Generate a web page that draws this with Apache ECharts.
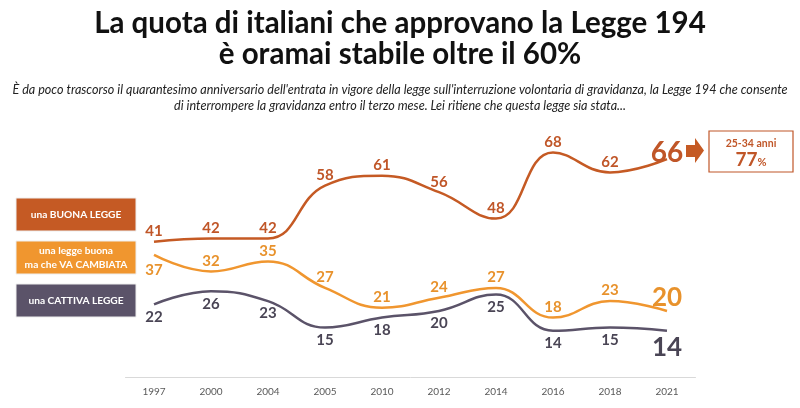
<!DOCTYPE html>
<html><head><meta charset="utf-8">
<script src="https://cdn.jsdelivr.net/npm/echarts@6/dist/echarts.min.js"></script>
<style>html,body{margin:0;padding:0;background:#fff}#c{width:800px;height:408px}</style>
</head><body><div id="c"></div>
<script>
const years = ['1997','2000','2004','2005','2010','2012','2014','2016','2018','2021'];
const buona = [41,42,42,58,61,56,48,68,62,66];
const cambiata = [37,32,35,27,21,24,27,18,23,20];
const cattiva = [22,26,23,15,18,20,25,14,15,14];
const legendNames = ['una BUONA LEGGE','una legge buona\nma che VA CAMBIATA','una CATTIVA LEGGE'];
const titleText = 'La quota di italiani che approvano la Legge 194\nè oramai stabile oltre il 60%';
const subText = "È da poco trascorso il quarantesimo anniversario dell'entrata in vigore della legge sull'interruzione volontaria di gravidanza, la Legge 194 che consente\ndi interrompere la gravidanza entro il terzo mese. Lei ritiene che questa legge sia stata...";
const boxTop = '25-34 anni';
const boxValue = '77';

const C1 = '#C55A24', C2 = '#F0962F', C3 = '#5B5369';
const L1 = '#C05628', L2 = '#E8922C', L3 = '#4A4555';
const F = 'Lato, "Open Sans", sans-serif';

function mk(vals, pos, firstPos, bigSize, lastOffset) {
  return vals.map((v, i) => {
    const last = i === vals.length - 1;
    const o = { value: v };
    if (last) {
      o.label = { show: true, fontSize: bigSize, position: pos, offset: lastOffset };
    } else if (i === 0 && firstPos) {
      o.label = { show: true, position: firstPos, offset: [0, 5] };
    }
    return o;
  });
}

function series(vals, lineColor, labelColor, pos, firstPos, bigSize, lastOffset) {
  return {
    type: 'line', smooth: 0.45, symbol: 'circle', symbolSize: 0, showSymbol: true,
    itemStyle: { color: 'rgba(0,0,0,0)', borderWidth: 0 },
    data: mk(vals, pos, firstPos, bigSize, lastOffset),
    lineStyle: { color: lineColor, width: 2.5 },
    label: { show: true, position: pos, distance: pos === 'top' ? 3 : 5, color: labelColor, fontFamily: F, fontWeight: 'bold', fontSize: 15 }
  };
}

const chart = echarts.init(document.getElementById('c'));
chart.setOption({
  animation: false,
  title: [
    { text: titleText, left: 'center', top: 3, textStyle: { fontFamily: F, fontSize: 29.5, fontWeight: 'bold', color: '#111', lineHeight: 31 } },
    { text: subText, left: 'center', top: 77, textStyle: { fontFamily: F, fontSize: 12.6, fontStyle: 'italic', fontWeight: 'normal', color: '#222', lineHeight: 16, align: 'center' } }
  ],
  grid: { left: 125.5, right: 104.5, top: 146, bottom: 31 },
  xAxis: {
    type: 'category', data: years, boundaryGap: true,
    axisLine: { lineStyle: { color: '#d9d9d9' } }, axisTick: { show: false },
    axisLabel: { color: '#595959', fontSize: 10, fontFamily: F, margin: 10 }
  },
  yAxis: { type: 'value', min: 0, max: 70, show: false, splitLine: { show: false } },
  series: [
    series(buona, C1, L1, 'top', null, 28, [0, 11]),
    series(cambiata, C2, L2, 'top', 'bottom', 26, [0, 3]),
    series(cattiva, C3, L3, 'bottom', null, 26, [0, -1])
  ],
  graphic: [
    { type: 'rect', shape: { x: 16, y: 198, width: 120, height: 33 }, style: { fill: C1, stroke: '#eee', lineWidth: 1 } },
    { type: 'text', x: 76, y: 214.5, style: { text: legendNames[0], fill: '#fff', font: 'bold 10.2px ' + F, textAlign: 'center', textVerticalAlign: 'middle' } },
    { type: 'rect', shape: { x: 16, y: 241, width: 120, height: 33 }, style: { fill: C2, stroke: '#eee', lineWidth: 1 } },
    { type: 'text', x: 76, y: 257.5, style: { text: legendNames[1], fill: '#fff', font: 'bold 10.2px ' + F, textAlign: 'center', textVerticalAlign: 'middle', lineHeight: 14 } },
    { type: 'rect', shape: { x: 16, y: 284, width: 120, height: 33 }, style: { fill: C3, stroke: '#eee', lineWidth: 1 } },
    { type: 'text', x: 76, y: 300.5, style: { text: legendNames[2], fill: '#fff', font: 'bold 10.2px ' + F, textAlign: 'center', textVerticalAlign: 'middle' } },
    { type: 'polygon', shape: { points: [[686,145],[695,145],[695,138],[704,150.5],[695,163],[695,157],[686,157]] }, style: { fill: C1 } },
    { type: 'rect', shape: { x: 709, y: 131, width: 84, height: 41 }, style: { fill: '#fff', stroke: L1, lineWidth: 1.2 } },
    { type: 'text', x: 751, y: 144, style: { text: boxTop, fill: L1, font: 'bold 10.5px ' + F, textAlign: 'center', textVerticalAlign: 'middle' } },
    { type: 'text', x: 751, y: 160, style: { text: '{a|' + boxValue + '}{b|%}', rich: { a: { fill: L1, font: 'bold 19px ' + F }, b: { fill: L1, font: 'bold 11px ' + F, padding: [5,0,0,0] } }, textAlign: 'center', textVerticalAlign: 'middle' } }
  ]
});
</script></body></html>
